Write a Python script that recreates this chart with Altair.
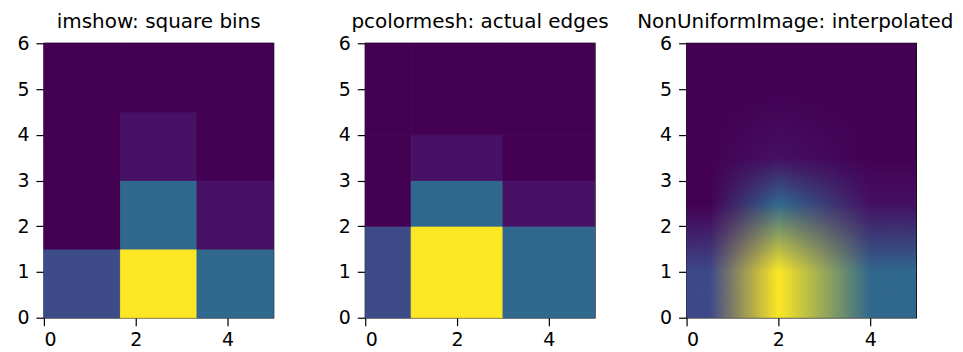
import altair as alt
import numpy as np
import pandas as pd

# ---- data ----
x_edges = [0, 1, 3, 5]
y_edges = [0, 2, 3, 4, 6]
# counts per bin, rows = y bins (bottom to top), cols = x bins (left to right)
counts = [
    [10, 45, 15],
    [0, 15, 2],
    [0, 2, 0],
    [0, 0, 0],
]
titles = ["imshow: square bins", "pcolormesh: actual edges", "NonUniformImage: interpolated"]
x_ticks = [0, 2, 4]
y_ticks = [0, 1, 2, 3, 4, 5, 6]
viridis_anchors = ["#440154", "#482878", "#3e4989", "#31688e", "#26828e",
                   "#1f9e89", "#35b779", "#6ece58", "#b5de2b", "#fde725"]

H = np.array(counts, dtype=float)
vmax = H.max()

W, HGT = 230, 275
FONT = "DejaVu Sans"


def cells(xe, ye):
    rows = []
    for j in range(len(ye) - 1):
        for i in range(len(xe) - 1):
            rows.append(dict(x=xe[i], x2=xe[i + 1], y=ye[j], y2=ye[j + 1], v=H[j, i]))
    return pd.DataFrame(rows)


xs = alt.X("x:Q", scale=alt.Scale(domain=[0, 5], nice=False, zero=False),
           axis=alt.Axis(values=x_ticks, title=None, labelPadding=5))
ys = alt.Y("y:Q", scale=alt.Scale(domain=[0, 6], nice=False, zero=False),
           axis=alt.Axis(values=y_ticks, title=None, labelPadding=7))
vscale = alt.Scale(scheme="viridis", domain=[0, vmax])


def panel(df, title):
    return alt.Chart(df, title=title).mark_rect(strokeWidth=0.8).encode(
        x=xs, x2="x2:Q", y=ys, y2="y2:Q",
        color=alt.Color("v:Q", scale=vscale, legend=None),
        stroke=alt.Stroke("v:Q", scale=vscale, legend=None),
    ).properties(width=W, height=HGT)


# imshow: uniform bins over extent
p1 = panel(cells(np.linspace(0, 5, 4), np.linspace(0, 6, 5)), titles[0])
# pcolormesh: actual edges
p2 = panel(cells(x_edges, y_edges), titles[1])

# NonUniformImage: bilinear interpolation of RGB between bin centres
xc = [(x_edges[i] + x_edges[i + 1]) / 2 for i in range(3)]
yc = [(y_edges[j] + y_edges[j + 1]) / 2 for j in range(4)]
anc = np.array([[int(h[k:k + 2], 16) for k in (1, 3, 5)] for h in viridis_anchors], float)
apos = np.linspace(0, 1, len(viridis_anchors))
norm = H / vmax
rgb = np.stack([np.interp(norm, apos, anc[:, c]) for c in range(3)], axis=-1)  # (4,3,3)

step = 0.05
gx = np.arange(0, 5, step) + step / 2
gy = np.arange(0, 6, step) + step / 2
img = np.zeros((len(gy), len(gx), 3))
for c in range(3):
    tmp = np.array([np.interp(gx, xc, rgb[j, :, c]) for j in range(4)])  # (4, nx)
    for k in range(len(gx)):
        img[:, k, c] = np.interp(gy, yc, tmp[:, k])
rows = []
for a, yy in enumerate(gy):
    for b, xx in enumerate(gx):
        r, g, bl = img[a, b]
        # each cell slightly overlaps its right/upper neighbour to hide seams
        rows.append(dict(x=xx - step / 2, x2=min(xx + step, 5.0),
                         y=yy - step / 2, y2=min(yy + step, 6.0),
                         c="#%02x%02x%02x" % (int(round(r)), int(round(g)), int(round(bl)))))
df3 = pd.DataFrame(rows)
p3 = alt.Chart(df3, title=alt.Title(titles[2], dx=-6)).mark_rect(strokeWidth=0).encode(
    x=xs, x2="x2:Q", y=ys, y2="y2:Q",
    color=alt.Color("c:N", scale=None),
).properties(width=W, height=HGT)

chart = alt.hconcat(p1, p2, p3, spacing=92, bounds="flush").properties(
    padding={"left": 8, "top": 3, "right": 0, "bottom": 0}
).configure_view(stroke="black", strokeWidth=1.3).configure_axis(
    grid=False, domain=False, ticks=True, tickColor="black", tickSize=8, tickWidth=1.2,
    labelColor="black", labelFont=FONT, labelFontSize=19
).configure_title(
    font=FONT, fontSize=20, fontWeight="normal", color="black", offset=2
)

chart.save("out.html", embed_options={"renderer": "svg", "actions": False})
